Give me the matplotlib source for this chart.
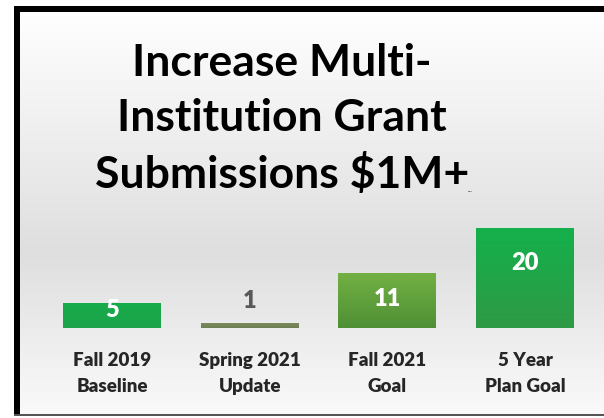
import matplotlib.pyplot as plt
import numpy as np
from matplotlib.patches import Rectangle

plt.rcParams['font.family'] = ['Lato', 'DejaVu Sans']

categories = ['Fall 2019\nBaseline', 'Spring 2021\nUpdate', 'Fall 2021\nGoal', '5 Year\nPlan Goal']
values = [5, 1, 11, 20]
title = 'Increase Multi-\nInstitution Grant\nSubmissions \\$1M+'

# top / bottom colour of each bar (vertical gradient)
bar_top = ['#16ab4b', '#7a8a5c', '#72b043', '#14b04c']
bar_bottom = ['#1ea34a', '#6f7d55', '#4f9035', '#2f9a46']
label_colors = ['white', '#595959', 'white', 'white']
label_offsets = [-5, 16, -19, -25]   # points relative to bar top

fig = plt.figure(figsize=(6.04, 4.18), dpi=100, facecolor='white')
W, H = 604, 418

# background with soft grey gradient
bg = fig.add_axes([20 / W, 4 / H, 1 - 20 / W, (406 - 4) / H])
shade = np.concatenate([np.linspace(0.995, 0.87, 120), np.linspace(0.87, 0.975, 80)])[::-1]
yy = np.linspace(0, 1, len(shade) + 1)
bg.pcolormesh([0, 1], yy, shade[:, None], cmap='gray', vmin=0, vmax=1, shading='flat',
              edgecolors='none', antialiased=False)
bg.set_xlim(0, 1)
bg.set_ylim(0, 1)
bg.set_axis_off()

# frame: thick black on left and top, thin grey at bottom
fig.patches.append(Rectangle((14 / W, 4 / H), 6 / W, (412 - 4) / H, transform=fig.transFigure,
                             facecolor='black', edgecolor='none'))
fig.patches.append(Rectangle((14 / W, 406 / H), 1 - 14 / W, 6 / H, transform=fig.transFigure,
                             facecolor='black', edgecolor='none'))
fig.patches.append(Rectangle((14 / W, 2 / H), 1 - 14 / W, 2 / H, transform=fig.transFigure,
                             facecolor='#555555', edgecolor='none'))

ax = fig.add_axes([43 / W, 90 / H, (594 - 43) / W, 120 / H])
ax.set_xlim(-0.5, 3.5)
ax.set_ylim(0, 24)
ax.patch.set_alpha(0)

x = np.arange(len(values))
bars = ax.bar(x, values, width=0.71, color=bar_top, zorder=2)
for b, ct, cb in zip(bars, bar_top, bar_bottom):
    x0, y0 = b.get_x(), b.get_y()
    cmap = plt.matplotlib.colors.LinearSegmentedColormap.from_list('g', [cb, ct])
    im = ax.imshow(np.tile(np.linspace(0, 1, 50)[:, None], (1, 4)), cmap=cmap, aspect='auto',
                   origin='lower', extent=[x0, x0 + b.get_width(), y0, y0 + b.get_height()], zorder=3)
    im.set_clip_path(b)

for xi, v, c, off in zip(x, values, label_colors, label_offsets):
    ax.annotate(str(v), (xi, v), xytext=(0, off), textcoords='offset points',
                ha='center', va='center', fontsize=17, fontweight='heavy', color=c, zorder=5)

ax.set_xticks(x)
ax.set_xticklabels(categories, fontsize=13.5, fontweight='heavy', color='#262626', linespacing=1.65)
ax.tick_params(axis='x', length=0, pad=17)
ax.set_yticks([])
for s in ax.spines.values():
    s.set_visible(False)

fig.text(282 / W, 1 - 119 / H, title, ha='center', va='center', fontsize=32,
         fontweight='bold', color='black', linespacing=1.45)
fig.text(470 / W, 1 - 192 / H, '...', ha='center', va='baseline', fontsize=5, color='#333333')

fig.savefig('out.png', dpi=100, facecolor='white')
